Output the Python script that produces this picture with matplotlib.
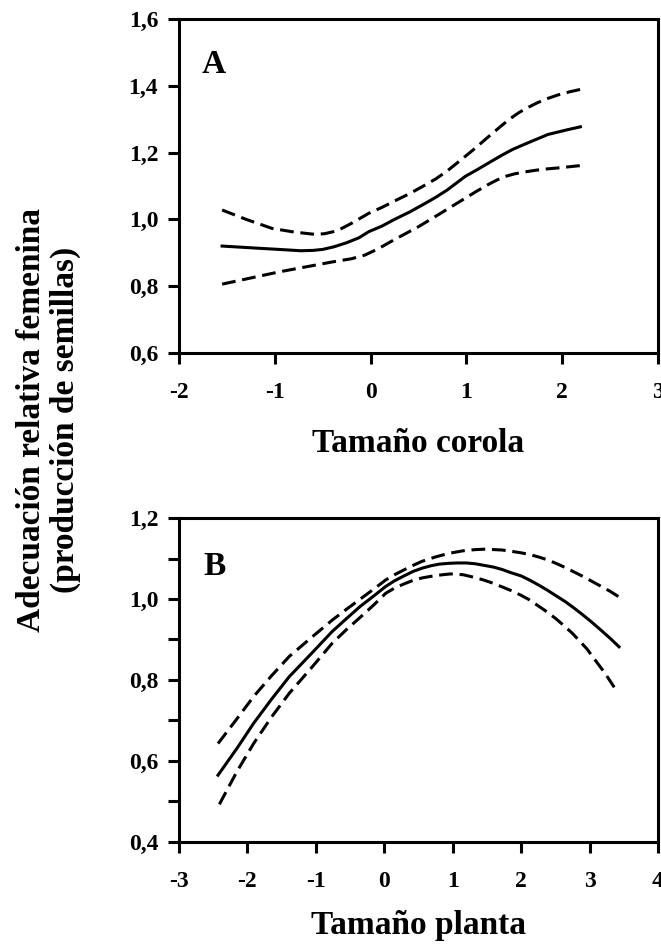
import matplotlib
matplotlib.use("Agg")
import matplotlib.pyplot as plt

plt.rcParams['font.family'] = ['Liberation Serif', 'DejaVu Serif']
plt.rcParams['font.weight'] = 'bold'
plt.rcParams['axes.labelweight'] = 'bold'

# Panel A - Tamaño corola
xa_fit = [-1.55, -1.2, -0.9, -0.73, -0.6, -0.5, -0.38, -0.25, -0.12, -0.02, 0.12, 0.25, 0.4, 0.54, 0.68, 0.8, 0.99, 1.12, 1.25, 1.37, 1.48, 1.6, 1.7, 1.85, 2.05, 2.19]
ya_fit = [0.920, 0.914, 0.909, 0.906, 0.907, 0.910, 0.918, 0.930, 0.945, 0.963, 0.980, 1.000, 1.021, 1.043, 1.066, 1.088, 1.129, 1.150, 1.172, 1.192, 1.209, 1.224, 1.236, 1.254, 1.268, 1.277]
xa_up = [-1.55, -1.3, -1.03, -0.8, -0.58, -0.48, -0.39, -0.3, -0.2, -0.02, 0.12, 0.25, 0.4, 0.54, 0.68, 0.8, 0.99, 1.1, 1.2, 1.36, 1.45, 1.55, 1.65, 1.74, 1.85, 1.95, 2.08, 2.19]
ya_up = [1.028, 1.000, 0.973, 0.962, 0.955, 0.957, 0.963, 0.973, 0.988, 1.018, 1.036, 1.055, 1.076, 1.098, 1.121, 1.145, 1.189, 1.215, 1.240, 1.279, 1.300, 1.320, 1.336, 1.349, 1.362, 1.372, 1.382, 1.389]
xa_lo = [-1.55, -0.95, -0.39, -0.2, -0.06, 0.08, 0.24, 0.5, 0.73, 0.98, 1.1, 1.22, 1.32, 1.4, 1.5, 1.59, 1.7, 1.8, 1.96, 2.19]
ya_lo = [0.806, 0.843, 0.873, 0.882, 0.893, 0.912, 0.938, 0.978, 1.018, 1.062, 1.083, 1.103, 1.118, 1.128, 1.136, 1.141, 1.146, 1.150, 1.154, 1.161]

# Panel B - Tamaño planta
xb_fit = [-2.43, -2.15, -1.91, -1.65, -1.39, -1.05, -0.76, -0.55, -0.35, -0.15, 0.02, 0.15, 0.3, 0.42, 0.55, 0.68, 0.8, 0.93, 1.07, 1.2, 1.33, 1.46, 1.59, 1.72, 1.85, 2.0, 2.12, 2.25, 2.38, 2.51, 2.64, 2.77, 2.9, 3.03, 3.16, 3.3, 3.43]
yb_fit = [0.565, 0.632, 0.693, 0.752, 0.808, 0.868, 0.920, 0.952, 0.982, 1.008, 1.031, 1.045, 1.058, 1.068, 1.076, 1.082, 1.086, 1.088, 1.089, 1.089, 1.087, 1.083, 1.079, 1.073, 1.065, 1.057, 1.047, 1.035, 1.022, 1.008, 0.994, 0.978, 0.961, 0.943, 0.924, 0.903, 0.882]
xb_up = [-2.43, -2.15, -1.91, -1.65, -1.39, -1.05, -0.76, -0.55, -0.35, -0.15, 0.02, 0.15, 0.3, 0.42, 0.55, 0.75, 0.95, 1.15, 1.33, 1.47, 1.6, 1.72, 1.85, 2.0, 2.12, 2.25, 2.38, 2.51, 2.64, 2.77, 2.9, 3.03, 3.16, 3.3, 3.43]
yb_up = [0.643, 0.705, 0.759, 0.810, 0.858, 0.907, 0.948, 0.975, 1.000, 1.025, 1.047, 1.060, 1.073, 1.083, 1.093, 1.104, 1.113, 1.119, 1.122, 1.123, 1.122, 1.121, 1.118, 1.114, 1.110, 1.104, 1.097, 1.088, 1.078, 1.067, 1.056, 1.044, 1.032, 1.019, 1.005]
xb_lo = [-2.41, -2.15, -1.91, -1.65, -1.39, -1.05, -0.76, -0.55, -0.35, -0.15, 0.02, 0.15, 0.3, 0.42, 0.55, 0.75, 0.97, 1.15, 1.3, 1.45, 1.59, 1.72, 1.85, 2.0, 2.12, 2.25, 2.38, 2.51, 2.64, 2.75, 2.85, 2.96, 3.06, 3.14, 3.22, 3.29, 3.36]
yb_lo = [0.493, 0.575, 0.643, 0.708, 0.767, 0.833, 0.891, 0.925, 0.955, 0.986, 1.014, 1.027, 1.038, 1.046, 1.052, 1.058, 1.062, 1.060, 1.054, 1.047, 1.039, 1.030, 1.021, 1.009, 0.998, 0.983, 0.968, 0.951, 0.932, 0.915, 0.897, 0.877, 0.854, 0.836, 0.818, 0.800, 0.782]

ticks_a_x = [-2, -1, 0, 1, 2, 3]
ticks_a_y = [0.6, 0.8, 1.0, 1.2, 1.4, 1.6]
labels_a_y = ['0,6', '0,8', '1,0', '1,2', '1,4', '1,6']
ticks_b_x = [-3, -2, -1, 0, 1, 2, 3, 4]
ticks_b_y = [0.4, 0.5, 0.6, 0.7, 0.8, 0.9, 1.0, 1.1, 1.2]
labels_b_y = ['0,4', '', '0,6', '', '0,8', '', '1,0', '', '1,2']

fig = plt.figure(figsize=(6.61, 9.47), dpi=100)
ax1 = fig.add_axes([0.2708, 0.6273, 0.7247, 0.3527])
ax2 = fig.add_axes([0.2708, 0.1109, 0.7247, 0.3421])

lw = 2.2
dash = (4.5, 2.2)


def style(ax, xt, yt, ylabels, xlim, ylim):
    ax.set_xlim(*xlim)
    ax.set_ylim(*ylim)
    ax.set_xticks(xt)
    ax.set_xticklabels([str(v) for v in xt])
    ax.set_yticks(yt)
    ax.set_yticklabels(ylabels)
    for s in ax.spines.values():
        s.set_linewidth(2.2)
    ax.tick_params(axis='x', direction='out', length=8, width=2.2, pad=13, labelsize=17)
    ax.tick_params(axis='y', direction='out', length=8, width=2.2, pad=7, labelsize=17)
    ax.tick_params(top=False, right=False)


ax1.plot(xa_fit, ya_fit, color='black', lw=lw)
ax1.plot(xa_up, ya_up, color='black', lw=lw, dashes=dash)
ax1.plot(xa_lo, ya_lo, color='black', lw=lw, dashes=dash)
style(ax1, ticks_a_x, ticks_a_y, labels_a_y, (-2, 3), (0.6, 1.6))
ax1.set_xlabel('Tamaño corola', fontsize=24, labelpad=18)
ax1.text(0.048, 0.865, 'A', transform=ax1.transAxes, fontsize=24, va='center', ha='left')

ax2.plot(xb_fit, yb_fit, color='black', lw=lw)
ax2.plot(xb_up, yb_up, color='black', lw=lw, dashes=dash)
ax2.plot(xb_lo, yb_lo, color='black', lw=lw, dashes=dash)
style(ax2, ticks_b_x, ticks_b_y, labels_b_y, (-3, 4), (0.4, 1.2))
ax2.set_xlabel('Tamaño planta', fontsize=24, labelpad=13)
ax2.text(0.052, 0.85, 'B', transform=ax2.transAxes, fontsize=24, va='center', ha='left')

fig.text(0.074, 0.5565, 'Adecuación relativa femenina\n(producción de semillas)',
         rotation=90, ha='center', va='center', multialignment='center',
         fontsize=24, linespacing=1.12)

fig.savefig('out.png', dpi=100)
